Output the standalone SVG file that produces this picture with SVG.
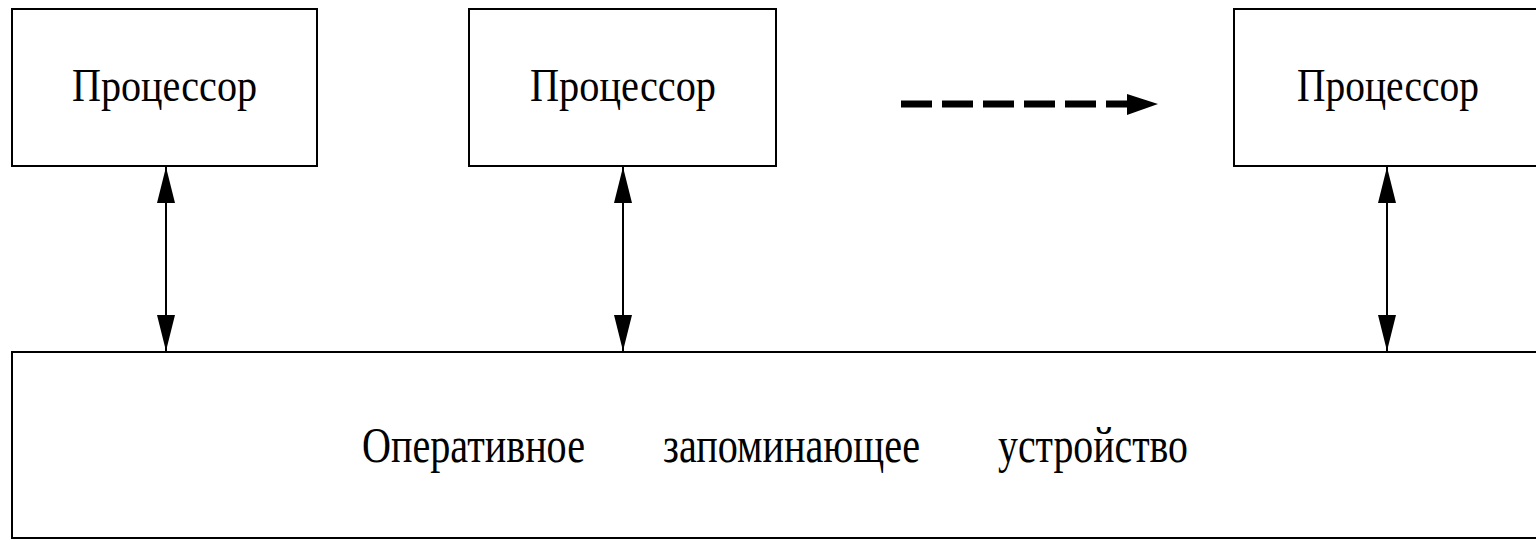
<svg xmlns="http://www.w3.org/2000/svg" width="1536" height="540" viewBox="0 0 1536 540">
<style>
.box{fill:#fff;stroke:#000;stroke-width:2}
.t{font-family:"Liberation Serif","Times New Roman",serif;fill:#000}
.p{font-size:47px}
.m{font-size:51px}
.c{stroke:#000;stroke-width:2;fill:none}
</style>
<rect width="1536" height="540" fill="#fff"/>
<g id="cpu1"><rect class="box" x="12" y="9" width="305" height="157"/><text class="t p" x="72" y="101" textLength="185" lengthAdjust="spacingAndGlyphs">Процессор</text></g>
<g id="cpu2"><rect class="box" x="469" y="9" width="307" height="157"/><text class="t p" x="530" y="101" textLength="186" lengthAdjust="spacingAndGlyphs">Процессор</text></g>
<g id="cpu3"><rect class="box" x="1234" y="9" width="310" height="157"/><text class="t p" x="1297" y="101" textLength="182" lengthAdjust="spacingAndGlyphs">Процессор</text></g>
<g id="memory"><rect class="box" x="12" y="352" width="1532" height="186"/>
<text class="t m" x="362" y="462" textLength="223" lengthAdjust="spacingAndGlyphs">Оперативное</text>
<text class="t m" x="663" y="462" textLength="257" lengthAdjust="spacingAndGlyphs">запоминающее</text>
<text class="t m" x="998" y="462" textLength="190" lengthAdjust="spacingAndGlyphs">устройство</text>
</g>
<g id="connectors">
<g fill="#000">
<path d="M166,167 L157,203 L175,203 Z"/><path d="M166,351 L157,315 L175,315 Z"/>
<path d="M623,167 L614,203 L632,203 Z"/><path d="M623,351 L614,315 L632,315 Z"/>
<path d="M1387,167 L1378,203 L1396,203 Z"/><path d="M1387,351 L1378,315 L1396,315 Z"/>
</g>
<line class="c" x1="166" y1="166" x2="166" y2="352"/>
<line class="c" x1="623" y1="166" x2="623" y2="352"/>
<line class="c" x1="1387" y1="166" x2="1387" y2="352"/>
<line x1="901" y1="104" x2="1128" y2="104" stroke="#000" stroke-width="7" stroke-dasharray="31 10"/>
<path d="M1127,94 L1158,104 L1127,115 Z" fill="#000"/>
</g>
</svg>
